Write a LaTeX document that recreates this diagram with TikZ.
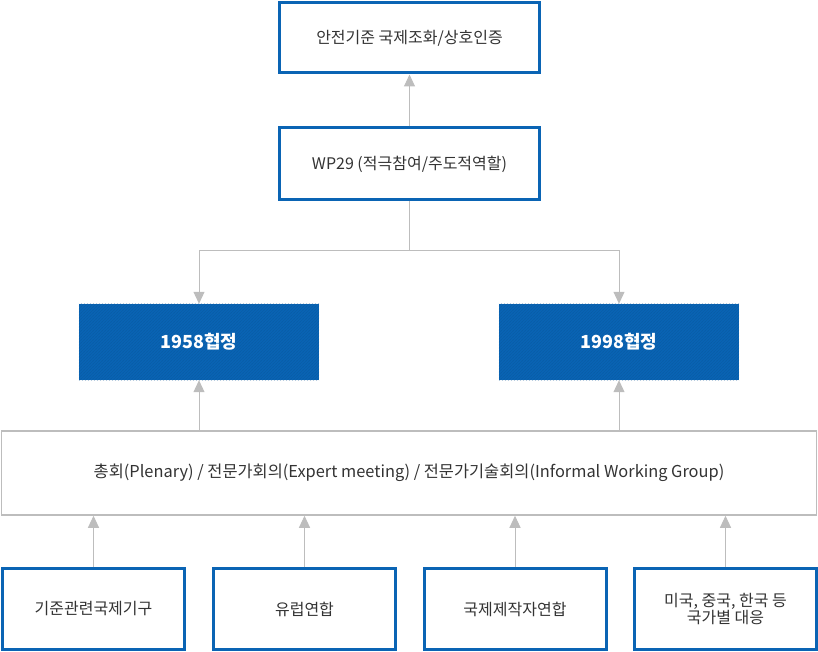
\documentclass[tikz,border=0pt]{standalone}
\usepackage{fontspec}
\setmainfont{Noto Sans CJK KR}
\usetikzlibrary{arrows.meta,patterns}
\definecolor{bl}{HTML}{0A64B4}
\definecolor{gr}{HTML}{BDBDBD}
\begin{document}
\begin{tikzpicture}[x=1pt,y=-1pt,
 ob/.style={draw=bl,line width=3pt,fill=white,inner sep=0pt,font=\fontsize{16}{20}\selectfont,text=black!80,align=center},
 fb/.style={fill=bl,inner sep=0pt,font=\fontsize{18}{22}\selectfont\bfseries,text=white},
 ar/.style={draw=gr,line width=1pt,-{Triangle[width=11pt,length=12pt]}}]
\useasboundingbox (0,0) rectangle (818,652);
\node[ob,minimum width=260,minimum height=70] (top) at (409.5,38) {안전기준 국제조화/상호인증};
\node[ob,minimum width=260,minimum height=72] (wp) at (409.5,164) {WP29 (적극참여/주도적역할)};
\node[fb,minimum width=240,minimum height=76] (a) at (199,342) {};
\node[fb,minimum width=240,minimum height=76] (b) at (619,342) {};
\fill[pattern=north east lines,pattern color=bl!80!black,opacity=0.35] (a.south west) rectangle (a.north east);
\fill[pattern=north east lines,pattern color=bl!80!black,opacity=0.35] (b.south west) rectangle (b.north east);
\node[fb,fill=none] (at) at (a) {1958협정};
\node[fb,fill=none] (bt) at (b) {1998협정};
\node[draw=gr,line width=1.5pt,minimum width=815,minimum height=84,inner sep=0pt,font=\fontsize{16.4}{20}\selectfont,text=black!80] (w) at (409,473) {총회(Plenary) / 전문가회의(Expert meeting) / 전문가기술회의(Informal Working Group)};
\node[ob,minimum width=182,minimum height=81] (c1) at (93.5,609) {기준관련국제기구};
\node[ob,minimum width=182,minimum height=81] (c2) at (304.5,609) {유럽연합};
\node[ob,minimum width=182,minimum height=81] (c3) at (515,609) {국제제작자연합};
\node[ob,minimum width=182,minimum height=81] (c4) at (725.5,609) {미국, 중국, 한국 등\\[-3pt]국가별 대응};
\draw[ar] (wp.north) -- (top.south);
\coordinate (j) at (409.5,250);
\draw[gr,line width=1pt] (wp.south) -- (j);
\draw[ar] (j) -| (a.north);
\draw[ar] (j) -| (b.north);
\draw[ar] (w.north -| a) -- (a.south);
\draw[ar] (w.north -| b) -- (b.south);
\foreach \c in {c1,c2,c3,c4} \draw[ar] (\c.north) -- (w.south -| \c);
\end{tikzpicture}
\end{document}
